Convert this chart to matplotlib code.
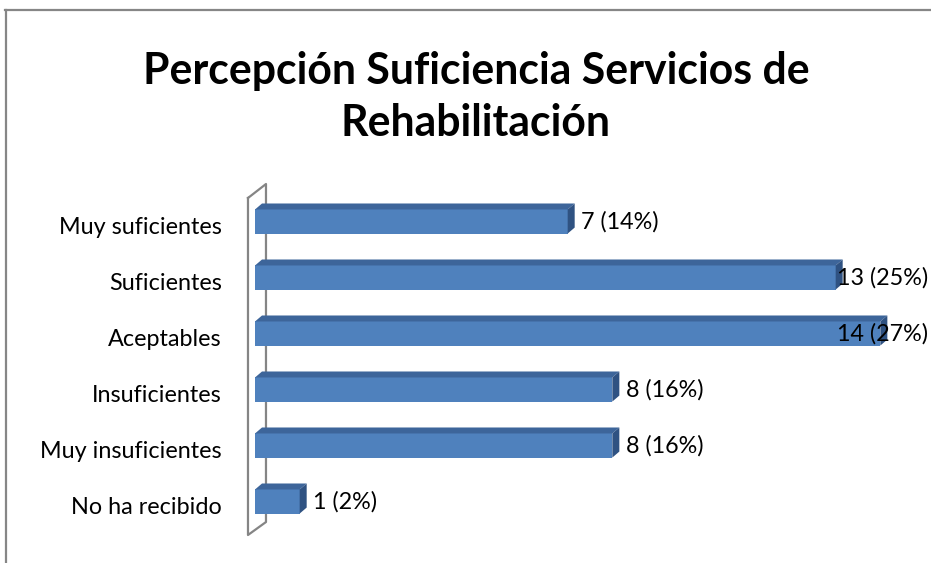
import matplotlib.pyplot as plt
from matplotlib.patches import Polygon
from matplotlib.lines import Line2D

categorias = ['Muy suficientes', 'Suficientes', 'Aceptables', 'Insuficientes',
              'Muy insuficientes', 'No ha recibido']
valores = [7, 13, 14, 8, 8, 1]
porcentajes = [14, 25, 27, 16, 16, 2]

plt.rcParams['font.family'] = ['Lato', 'DejaVu Sans']

fig = plt.figure(figsize=(9.31, 5.63), dpi=100)
ax = fig.add_axes([255/931, 1 - 539.6/563, 670/931, 347.2/563])

n = len(categorias)
pos = list(range(n - 1, -1, -1))
alto = 0.43
desp = 0.08
dx, dy = 0.157, 0.107   # profundidad 3D

frente = '#4F81BD'
arriba = '#3D659A'
lado = '#2F5282'

ax.barh([p + desp for p in pos], valores, height=alto, color=frente, zorder=3)
for p, v in zip(pos, valores):
    y0 = p + desp - alto/2
    y1 = p + desp + alto/2
    ax.add_patch(Polygon([(0, y1), (v, y1), (v + dx, y1 + dy), (dx, y1 + dy)],
                         closed=True, color=arriba, zorder=3, lw=0))
    ax.add_patch(Polygon([(v, y0), (v + dx, y0 + dy), (v + dx, y1 + dy), (v, y1)],
                         closed=True, color=lado, zorder=3, lw=0))

# etiquetas de valor
for p, v, pc in zip(pos, valores, porcentajes):
    txt = f'{v} ({pc}%)'
    if v >= 13:
        ax.text(1.005, p + desp, txt, transform=ax.get_yaxis_transform(),
                ha='right', va='center', fontsize=16.8, zorder=5, clip_on=False)
    else:
        ax.annotate(txt, xy=(v, p + desp), xytext=(9.5, 0), textcoords='offset points',
                    ha='left', va='center', fontsize=16.8)

# pared lateral
ax.plot([-0.157, -0.157, 0.246, 0.246, -0.157], [5.5, -0.518, -0.286, 5.75, 5.5],
        color='#858585', lw=1.6, clip_on=False, zorder=2)

ax.set_xlim(0, 15)
ax.set_ylim(-0.6, 5.6)
ax.set_yticks(pos)
ax.set_yticklabels(categorias, fontsize=16.8)
ax.tick_params(axis='y', length=0, pad=24)
ax.set_xticks([])
for s in ax.spines.values():
    s.set_visible(False)

fig.text(476/931, 1 - 71/563, 'Percepción Suficiencia Servicios de', ha='center', va='center',
         fontsize=30.8, fontweight='bold')
fig.text(476/931, 1 - 123/563, 'Rehabilitación', ha='center', va='center',
         fontsize=30.8, fontweight='bold')

# borde del área del gráfico
fig.add_artist(Line2D([5/931, 1], [1 - 10/563, 1 - 10/563], color='#868686', lw=1.6))
fig.add_artist(Line2D([6/931, 6/931], [0, 1 - 10/563], color='#868686', lw=1.6))

fig.savefig('out.png', dpi=100)
